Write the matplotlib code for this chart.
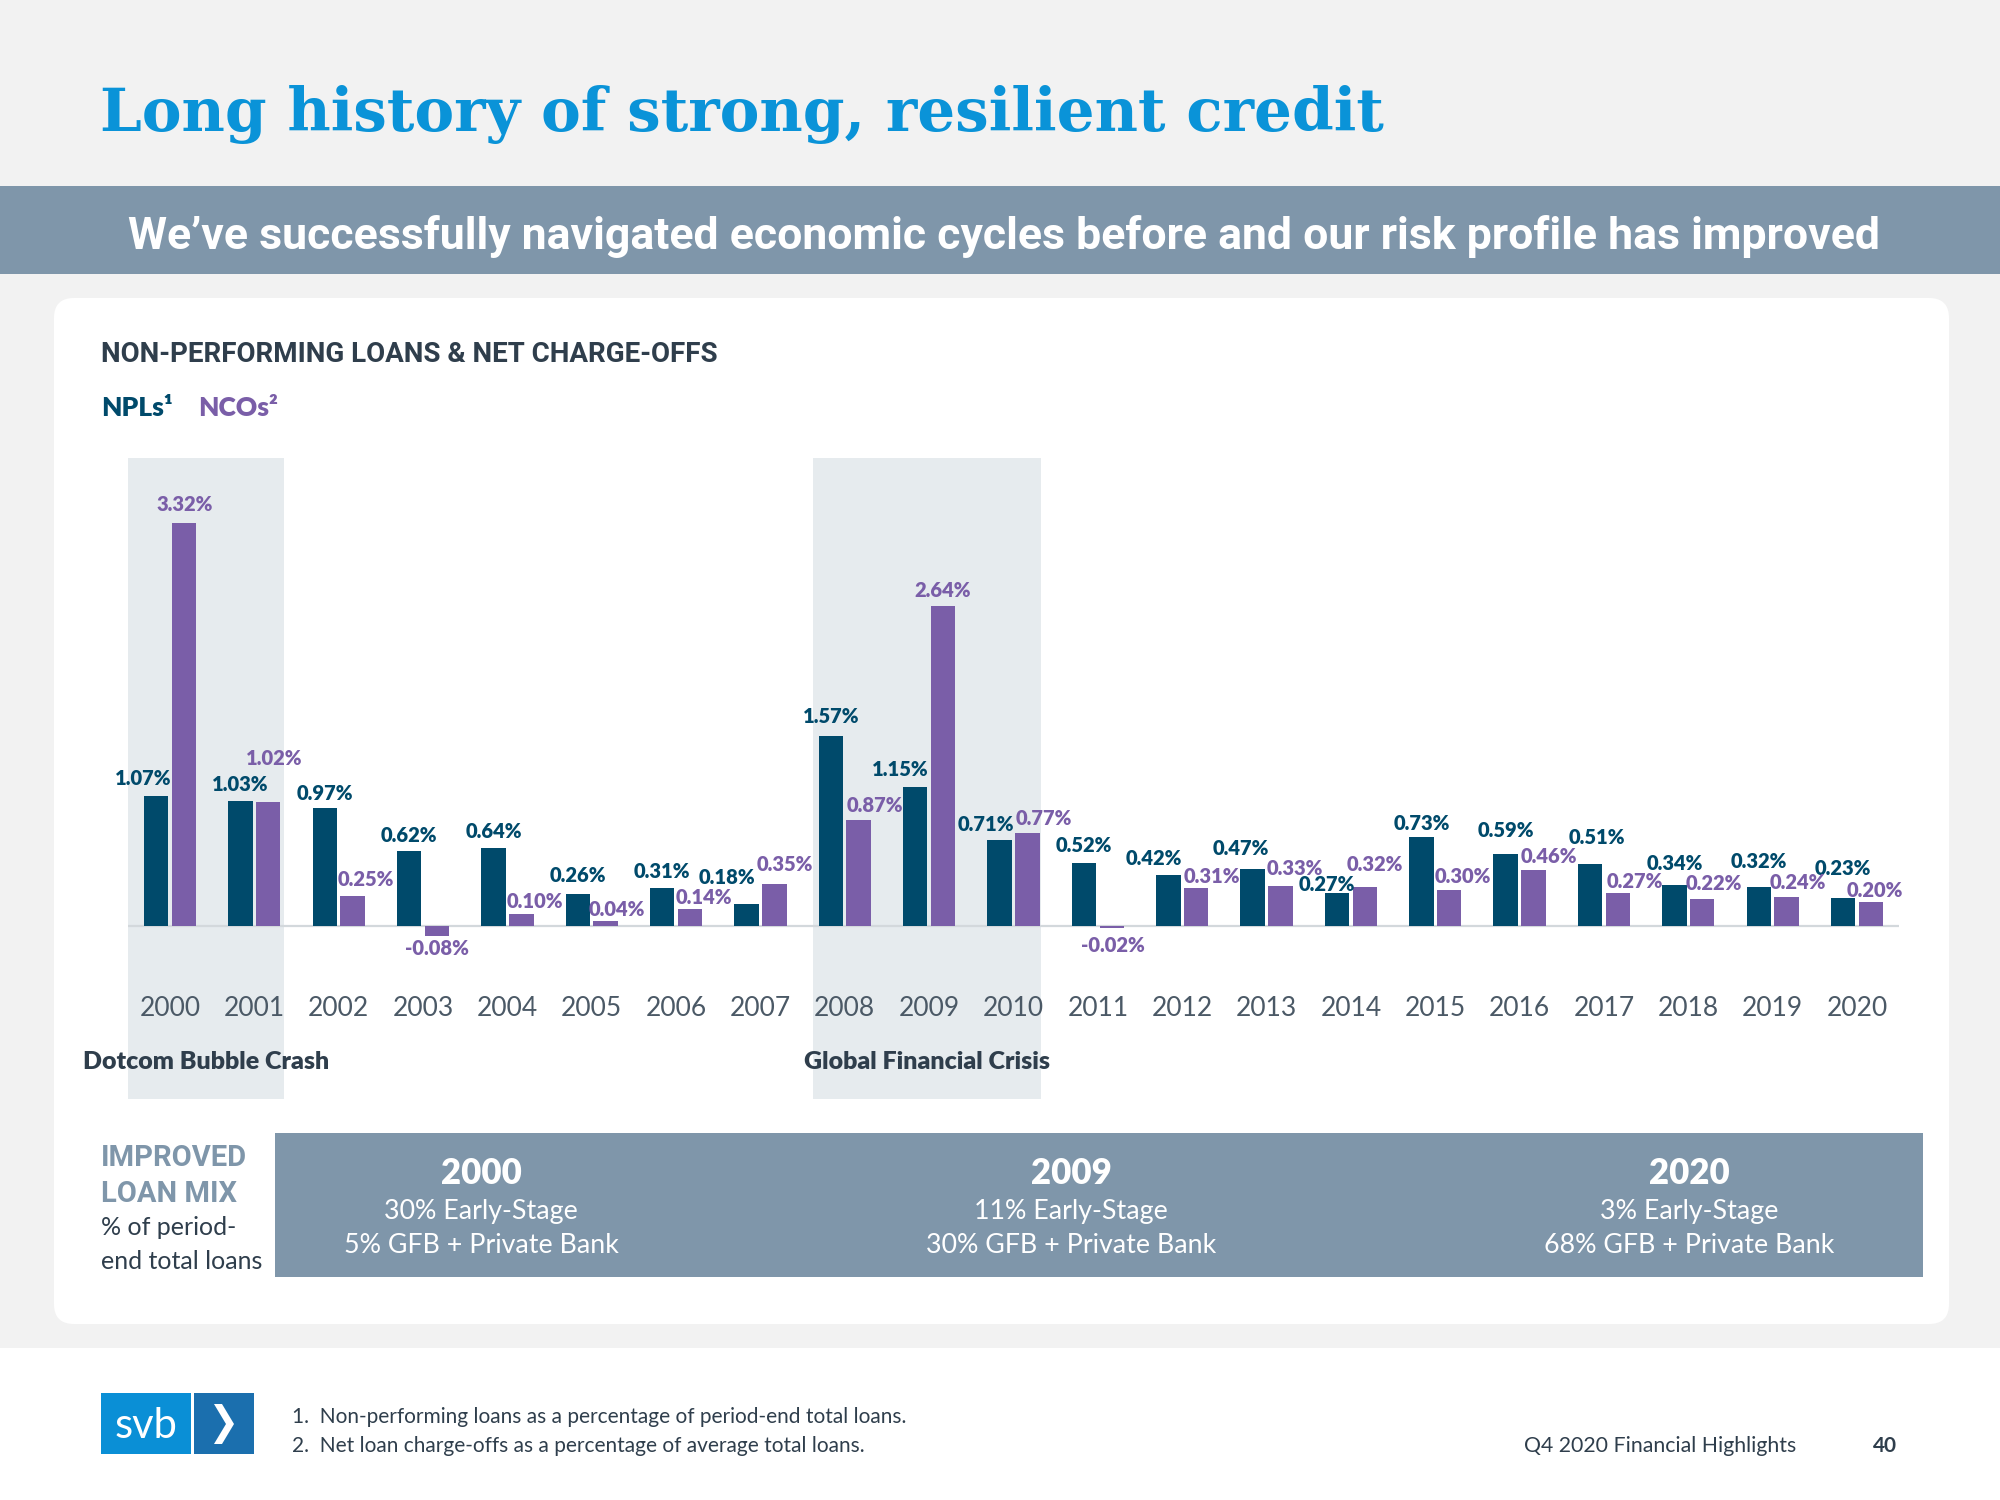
import matplotlib
matplotlib.use("Agg")
import matplotlib.pyplot as plt
import numpy as np
from matplotlib.patches import Rectangle, FancyBboxPatch, Polygon

# data
years = ["2000", "2001", "2002", "2003", "2004", "2005", "2006", "2007", "2008", "2009", "2010",
         "2011", "2012", "2013", "2014", "2015", "2016", "2017", "2018", "2019", "2020"]
npl = [1.07, 1.03, 0.97, 0.62, 0.64, 0.26, 0.31, 0.18, 1.57, 1.15, 0.71,
       0.52, 0.42, 0.47, 0.27, 0.73, 0.59, 0.51, 0.34, 0.32, 0.23]
nco = [3.32, 1.02, 0.25, -0.08, 0.10, 0.04, 0.14, 0.35, 0.87, 2.64, 0.77,
       -0.02, 0.31, 0.33, 0.32, 0.30, 0.46, 0.27, 0.22, 0.24, 0.20]
crisis_names = ["Dotcom Bubble Crash", "Global Financial Crisis"]
mix_years = ["2000", "2009", "2020"]
mix_early = ["30%", "11%", "3%"]
mix_gfb = ["5%", "30%", "68%"]
footnotes = ["1.  Non-performing loans as a percentage of period-end total loans.",
             "2.  Net loan charge-offs as a percentage of average total loans."]

# colours
BG = "#f2f2f2"
STEEL = "#7f96aa"
BLUE = "#0a93d8"
NPL_C = "#004a6b"
NCO_C = "#7a5ea8"
BAND = "#e6ebee"
DARK = "#2f3e4c"
GREY_TXT = "#4b5966"

SANS = ["Lato", "DejaVu Sans"]
NARROW = ["Roboto", "DejaVu Sans"]

H = 1500
fig = plt.figure(figsize=(20, 15), dpi=100)
fig.patch.set_facecolor(BG)
T = fig.dpi_scale_trans


def px(x, y):
    # slide pixel (from top-left) -> inches
    return x / 100, (H - y) / 100


def box(x0, y0, x1, y1, color, **kw):
    fig.patches.append(Rectangle(px(x0, y1), (x1 - x0) / 100, (y1 - y0) / 100,
                                 transform=T, color=color, lw=0, **kw))


def txt(x, y, s, **kw):
    return fig.text(*px(x, y), s, transform=T, **kw)


def fit(t, width):
    r = fig.canvas.get_renderer()
    w = t.get_window_extent(r).width
    t.set_fontsize(t.get_fontsize() * width / w)


# header area
t = txt(100, 131, "Long history of strong, resilient credit", color=BLUE,
        family="DejaVu Serif", weight="bold", fontsize=40, va="baseline")
fit(t, 1284)
box(0, 186, 2000, 274, STEEL)
t = txt(1004, 249, "We\u2019ve successfully navigated economic cycles before and our risk profile has improved",
        color="white", family=NARROW, weight="bold", fontsize=30, ha="center", va="baseline")
fit(t, 1749)

# white card + footer
fig.patches.append(FancyBboxPatch(px(54, 1324), 18.95, 10.26, boxstyle="round,pad=0,rounding_size=0.2",
                                  transform=T, color="white", lw=0))
box(0, 1348, 2000, 1500, "white")

t = txt(101, 362, "NON-PERFORMING LOANS & NET CHARGE-OFFS", color=DARK, family=NARROW,
        weight="bold", fontsize=18, va="baseline")
fit(t, 617)
txt(101, 416, "NPLs\u00b9", color=NPL_C, family=SANS, weight="heavy", fontsize=19, va="baseline")
txt(198, 416, "NCOs\u00b2", color=NCO_C, family=SANS, weight="heavy", fontsize=19, va="baseline")

# chart (zorder above the figure-level card patches)
ax = fig.add_axes([127.8 / 2000, (H - 1099) / H, (1899.2 - 127.8) / 2000, (1099 - 458) / H])
ax.set_zorder(5)
ax.set_xlim(-0.5, 20.5)
ax.set_ylim(-1.426, 3.858)
ax.axis("off")
ax.patch.set_alpha(0)

bands = [(-0.5, 1.35), (7.62, 10.33)]
for (a, b), name in zip(bands, crisis_names):
    ax.axvspan(a, b, color=BAND, lw=0, zorder=0)
    ax.text((a + b) / 2, -1.12, name, ha="center", va="center", color=DARK,
            family=SANS, weight="heavy", fontsize=18)

x = np.arange(len(years))
w = 0.29
off = 0.165
ax.bar(x - off, npl, w, color=NPL_C, zorder=3)
ax.bar(x + off, nco, w, color=NCO_C, zorder=3)
ax.axhline(0, color="#d3d8dc", lw=1.6, zorder=2)

for xi, yr in zip(x, years):
    ax.text(xi, -0.68, yr, ha="center", va="center", color=GREY_TXT, family=SANS, fontsize=19)

# hand placed label nudges (slide px: dx, dy from bar end)
npl_nudge = [(-10, 14), (0, 13), (0, 12), (0, 12), (0, 13), (0, 15), (0, 13), (-15, 21), (0, 15), (-12, 13),
             (-11, 12), (0, 14), (-11, 13), (-9, 16), (-8, 7), (0, 11), (0, 19), (5, 21), (0, 17), (0, 20), (0, 23)]
nco_nudge = [(1, 15), (5, 34), (10, 13), (0, -10), (11, 10), (9, 9), (11, 9), (8, 15), (13, 12), (0, 12),
             (13, 11), (1, -13), (12, 9), (11, 14), (8, 18), (11, 10), (12, 11), (13, 9), (9, 12), (9, 11), (3, 9)]
k = 0.92
for xi, v, (dx, dy) in zip(x, npl, npl_nudge):
    ax.annotate(f"{v:.2f}%", (xi - off, v), xytext=(dx * k, dy * k), textcoords="offset points",
                ha="center", va="center", color=NPL_C, family=SANS, weight="heavy", fontsize=14.5, zorder=4)
for xi, v, (dx, dy) in zip(x, nco, nco_nudge):
    ax.annotate(f"{v:.2f}%", (xi + off, v), xytext=(dx * k, dy * k), textcoords="offset points",
                ha="center", va="center", color=NCO_C, family=SANS, weight="heavy", fontsize=14.5, zorder=4)

# improved loan mix strip
txt(101, 1166, "IMPROVED", color=STEEL, family=NARROW, weight="bold", fontsize=21, va="baseline")
txt(101, 1202, "LOAN MIX", color=STEEL, family=NARROW, weight="bold", fontsize=21, va="baseline")
txt(101, 1235, "% of period-", color=DARK, family=SANS, fontsize=18, va="baseline")
txt(101, 1269, "end total loans", color=DARK, family=SANS, fontsize=18, va="baseline")
box(275, 1133, 1923, 1277, STEEL)
for cx, yr, e, g in zip([481, 1071, 1689], mix_years, mix_early, mix_gfb):
    txt(cx, 1184, yr, color="white", family=SANS, weight="heavy", fontsize=25, ha="center", va="baseline")
    txt(cx, 1219, f"{e} Early-Stage", color="white", family=SANS, fontsize=19.3, ha="center", va="baseline")
    txt(cx, 1253, f"{g} GFB + Private Bank", color="white", family=SANS, fontsize=19.3, ha="center", va="baseline")

# footer: logo, notes, page
box(101, 1393, 191, 1454, "#0a8fd6")
box(194, 1393, 254, 1454, "#1b6fae")
txt(146, 1438, "svb", color="white", family=SANS, fontsize=30, ha="center", va="baseline")
chev = [px(214, 1404), px(222, 1404), px(234, 1424), px(222, 1444), px(214, 1444), px(226, 1424)]
fig.patches.append(Polygon(chev, closed=True, transform=T, color="white", lw=0))
for i, note in enumerate(footnotes):
    txt(292, 1423 + i * 29, note, color=DARK, family=SANS, fontsize=15, va="baseline")
txt(1524, 1452, "Q4 2020 Financial Highlights", color=DARK, family=SANS, fontsize=15.3, va="baseline")
txt(1897, 1452, "40", color=DARK, family=SANS, weight="bold", fontsize=15, ha="right", va="baseline")

fig.savefig("out.png", dpi=100, facecolor=BG)
